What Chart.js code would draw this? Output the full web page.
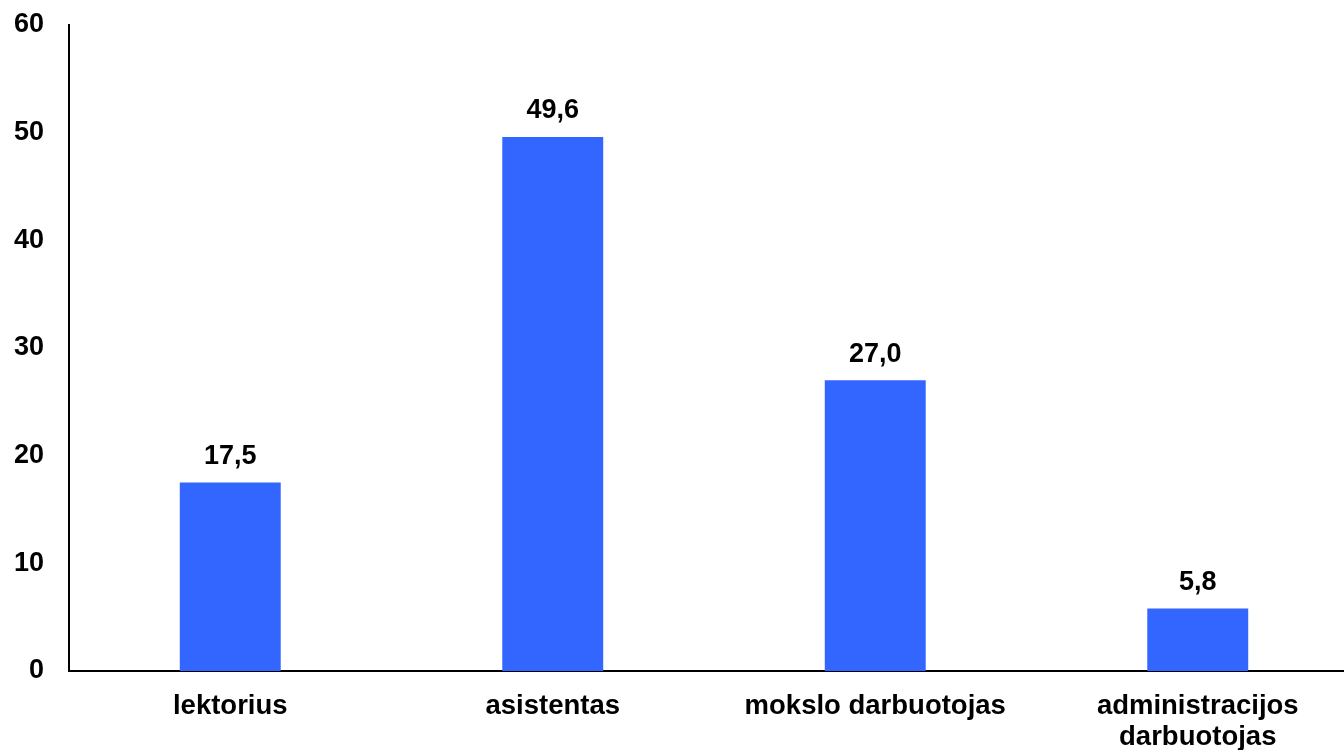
<!DOCTYPE html>
<html>
<head>
<meta charset="utf-8">
<script src="https://cdn.jsdelivr.net/npm/chart.js@4/dist/chart.umd.min.js"></script>
<style>
    body { margin: 0; overflow: hidden; background: #ffffff; }
</style>
</head>
<body>
<canvas id="output_barchart" width="1360" height="750"></canvas>
<script>
let labels = ["lektorius", "asistentas", "mokslo darbuotojas", ["administracijos", "darbuotojas"]]
let values = [17.5, 49.6, 27.0, 5.8]
let y_ticks = [0, 10, 20, 30, 40, 50, 60]

let font_family = "'Liberation Sans', Arial, sans-serif"

// value above each bar, written with a comma like in the original
let valueLabels = {
    id: "valueLabels",
    afterDatasetsDraw(chart) {
        let ctx = chart.ctx
        let meta = chart.getDatasetMeta(0)
        ctx.save()
        ctx.font = "bold 27px " + font_family
        ctx.fillStyle = "#000000"
        ctx.textAlign = "center"
        ctx.textBaseline = "middle"
        for (let i = 0; i < meta.data.length; i++) {
            let bar = meta.data[i]
            ctx.fillText(values[i].toFixed(1).replace(".", ","), bar.x, bar.y - 26)
        }
        ctx.restore()
    }
}

let chart = new Chart(document.getElementById("output_barchart").getContext("2d"), {
    type: "bar",
    data: {
        labels: labels,
        datasets: [{
            data: values,
            backgroundColor: "rgb(51, 102, 255)",
            borderWidth: 0,
            barPercentage: 0.313,
            categoryPercentage: 1
        }]
    },
    options: {
        responsive: false,
        animation: false,
        layout: {
            padding: { top: 25, right: 1, bottom: 0, left: 0 }
        },
        plugins: {
            legend: { display: false },
            tooltip: { enabled: false }
        },
        scales: {
            x: {
                grid: { display: false, drawTicks: false },
                border: { display: true, color: "#000000", width: 2 },
                ticks: {
                    color: "#000000",
                    padding: 20,
                    maxRotation: 0,
                    autoSkip: false,
                    font: { family: font_family, size: 27.5, weight: "bold", lineHeight: 1.13 }
                },
                afterFit(scale) {
                    scale.height = 79
                }
            },
            y: {
                min: 0,
                max: 60,
                grid: { display: false, drawTicks: false },
                border: { display: true, color: "#000000", width: 2 },
                afterBuildTicks(scale) {
                    scale.ticks = y_ticks.map(v => ({ value: v }))
                },
                ticks: {
                    color: "#000000",
                    padding: 25,
                    font: { family: font_family, size: 27, weight: "bold" }
                },
                afterFit(scale) {
                    scale.width = 69
                    scale.paddingTop = 0
                    scale.paddingBottom = 0
                }
            }
        }
    },
    plugins: [valueLabels]
})
</script>
</body>
</html>
